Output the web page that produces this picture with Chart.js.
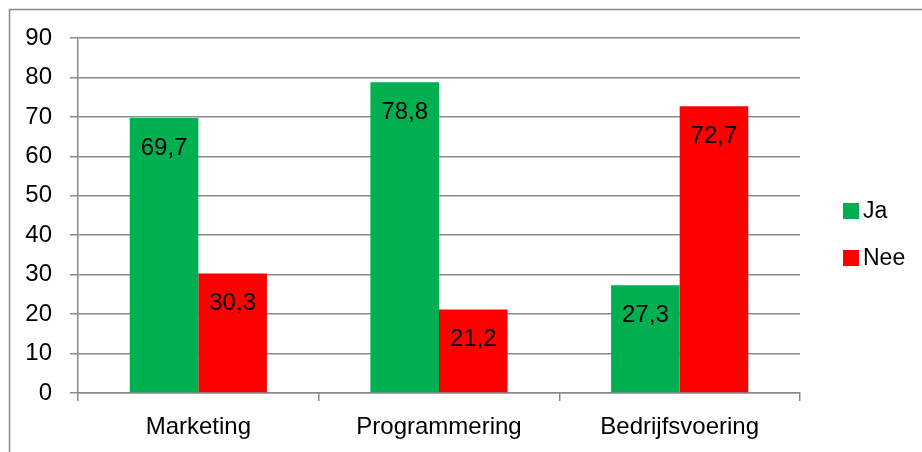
<!DOCTYPE html>
<html>
<head>
<meta charset="utf-8">
<script src="https://cdn.jsdelivr.net/npm/chart.js@4.4.1/dist/chart.umd.min.js"></script>
<style>
  html, body { margin: 0; padding: 0; background: #ffffff; }
  #wrap { width: 922px; height: 452px; position: relative; }
</style>
</head>
<body>
<div id="wrap"><canvas id="chart"></canvas></div>
<script>
const categories = ['Marketing', 'Programmering', 'Bedrijfsvoering'];
const seriesNames = ['Ja', 'Nee'];
const jaValues = [69.7, 78.8, 27.3];
const neeValues = [30.3, 21.2, 72.7];
const seriesColors = ['#00B050', '#FF0000'];
const yTicks = [0, 10, 20, 30, 40, 50, 60, 70, 80, 90];

const FONT = "'Liberation Sans', Arial, sans-serif";

// outer frame, like the Excel chart border
const framePlugin = {
    id: 'frame',
    beforeDraw(chart) {
        const ctx = chart.ctx;
        ctx.save();
        ctx.fillStyle = '#ffffff';
        ctx.fillRect(0, 0, chart.width, chart.height);
        ctx.strokeStyle = '#888888';
        ctx.lineWidth = 1.5;
        ctx.strokeRect(9.5, 9.5, chart.width + 10, chart.height + 10);
        ctx.restore();
    }
};

// value labels inside the top of each bar
const valueLabels = {
    id: 'valueLabels',
    afterDatasetsDraw(chart) {
        const ctx = chart.ctx;
        ctx.save();
        ctx.font = '24px ' + FONT;
        ctx.fillStyle = '#000000';
        ctx.textAlign = 'center';
        ctx.textBaseline = 'middle';
        chart.data.datasets.forEach((ds, i) => {
            chart.getDatasetMeta(i).data.forEach((bar, j) => {
                const txt = ds.data[j].toFixed(1).replace('.', ',');
                ctx.fillText(txt, bar.x, bar.y + 30);
            });
        });
        ctx.restore();
    }
};

// legend on the right
const sideLegend = {
    id: 'sideLegend',
    afterDraw(chart) {
        const ctx = chart.ctx;
        ctx.save();
        ctx.font = '23px ' + FONT;
        ctx.textBaseline = 'middle';
        chart.data.datasets.forEach((ds, i) => {
            const y = 211 + i * 47;
            ctx.fillStyle = ds.backgroundColor;
            ctx.fillRect(843, y - 8, 16, 16);
            ctx.fillStyle = '#000000';
            ctx.fillText(ds.label, 863, y + 1);
        });
        ctx.restore();
    }
};

const config = {
    type: 'bar',
    data: {
        labels: categories,
        datasets: [
            { label: seriesNames[0], data: jaValues, backgroundColor: seriesColors[0] },
            { label: seriesNames[1], data: neeValues, backgroundColor: seriesColors[1] }
        ]
    },
    options: {
        responsive: true,
        maintainAspectRatio: false,
        animation: false,
        categoryPercentage: 0.57,
        barPercentage: 1.0,
        layout: { padding: { left: 10, top: 38, right: 122, bottom: 0 } },
        plugins: {
            legend: { display: false },
            tooltip: { enabled: false }
        },
        scales: {
            x: {
                grid: {
                    display: true,
                    drawOnChartArea: false,
                    drawTicks: true,
                    tickLength: 8,
                    color: '#8a8a8a',
                    lineWidth: 1.5
                },
                border: { display: true, color: '#8a8a8a', width: 1.5 },
                ticks: {
                    color: '#000000',
                    font: { family: FONT, size: 24 },
                    padding: 12
                },
                afterFit(scale) { scale.height = 59; }
            },
            y: {
                min: 0,
                max: 90,
                afterBuildTicks(scale) {
                    scale.ticks = yTicks.map(v => ({ value: v }));
                },
                grid: {
                    color: '#8a8a8a',
                    lineWidth: 1.5,
                    drawTicks: true,
                    tickLength: 8
                },
                border: { display: true, color: '#8a8a8a', width: 1.5 },
                ticks: {
                    color: '#000000',
                    font: { family: FONT, size: 24 },
                    padding: 18
                },
                afterFit(scale) { scale.width = 68; }
            }
        }
    },
    plugins: [framePlugin, valueLabels, sideLegend]
};

new Chart(document.getElementById('chart'), config);
</script>
</body>
</html>
